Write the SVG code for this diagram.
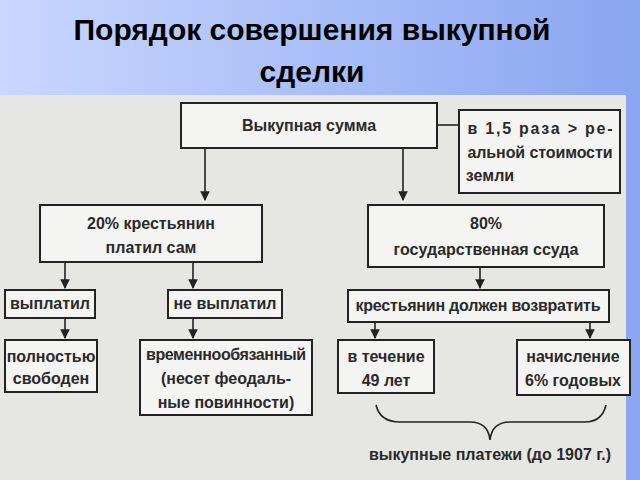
<svg xmlns="http://www.w3.org/2000/svg" width="640" height="480" viewBox="0 0 640 480">
<defs>
<linearGradient id="bg" x1="0" y1="0" x2="1" y2="0"><stop offset="0" stop-color="#c9d7ff"/><stop offset="1" stop-color="#8aa6f0"/></linearGradient>
<marker id="ar" viewBox="0 0 10 10" refX="9" refY="5" markerWidth="6" markerHeight="6" orient="auto"><path d="M0,0L10,5L0,10z" fill="#222"/></marker>
<style>
.b{fill:#f4f4f2;stroke:#222;stroke-width:2}
.t{font-family:"Liberation Sans",Arial,sans-serif;font-size:16px;font-weight:bold;fill:#2a2a2a;text-anchor:middle}
.c{stroke:#222;stroke-width:1.6;fill:none}
.h{font-family:"Liberation Sans",Arial,sans-serif;font-size:30px;font-weight:bold;fill:#000;text-anchor:middle}
</style>
</defs>
<rect width="640" height="480" fill="url(#bg)"/>
<rect x="0" y="95" width="626" height="385" fill="#e6e6e3"/>
<text class="h" x="312" y="40">Порядок совершения выкупной</text>
<text class="h" x="312" y="82">сделки</text>
<g id="connectors">
<path class="c" d="M437,125H459"/>
<path class="c" d="M205,148V200" marker-end="url(#ar)"/>
<path class="c" d="M403,148V200" marker-end="url(#ar)"/>
<path class="c" d="M65,262V288" marker-end="url(#ar)"/>
<path class="c" d="M193,262V288" marker-end="url(#ar)"/>
<path class="c" d="M480,267V288" marker-end="url(#ar)"/>
<path class="c" d="M65,318V338" marker-end="url(#ar)"/>
<path class="c" d="M193,318V338" marker-end="url(#ar)"/>
<path class="c" d="M375,322V338" marker-end="url(#ar)"/>
<path class="c" d="M590,322V338" marker-end="url(#ar)"/>
<path class="c" d="M376,405Q380,422 400,422H470Q488,422 490,440Q492,422 510,422H585Q602,422 606,405" stroke-width="2.2"/>
</g>
<g id="n1"><rect class="b" x="181" y="103" width="256" height="45"/><text class="t" x="309" y="131">Выкупная сумма</text></g>
<g id="n2"><rect class="b" x="459" y="110" width="161" height="83"/><text class="t" x="540" y="134" textLength="145">в 1,5 раза &gt; ре-</text><text class="t" x="540" y="158" textLength="145">альной стоимости</text><text class="t" x="490" y="181">земли</text></g>
<g id="n3"><rect class="b" x="40" y="205" width="222" height="57"/><text class="t" x="151" y="229">20% крестьянин</text><text class="t" x="151" y="253">платил сам</text></g>
<g id="n4"><rect class="b" x="368" y="205" width="236" height="62"/><text class="t" x="486" y="229">80%</text><text class="t" x="486" y="255">государственная ссуда</text></g>
<g id="n5"><rect class="b" x="5" y="290" width="90" height="28"/><text class="t" x="50" y="309">выплатил</text></g>
<g id="n6"><rect class="b" x="168" y="290" width="114" height="28"/><text class="t" x="225" y="309">не выплатил</text></g>
<g id="n7"><rect class="b" x="348" y="290" width="261" height="32"/><text class="t" x="478" y="311" textLength="245">крестьянин должен возвратить</text></g>
<g id="n8"><rect class="b" x="5" y="340" width="92" height="52"/><text class="t" x="51" y="362">полностью</text><text class="t" x="51" y="384">свободен</text></g>
<g id="n9"><rect class="b" x="140" y="340" width="172" height="75"/><text class="t" x="226" y="360" textLength="160">временнообязанный</text><text class="t" x="226" y="384">(несет феодаль-</text><text class="t" x="226" y="408">ные повинности)</text></g>
<g id="n10"><rect class="b" x="338" y="340" width="96" height="53"/><text class="t" x="386" y="362">в течение</text><text class="t" x="386" y="386">49 лет</text></g>
<g id="n11"><rect class="b" x="517" y="340" width="113" height="55"/><text class="t" x="573" y="362">начисление</text><text class="t" x="573" y="386">6% годовых</text></g>
<text class="t" x="490" y="460">выкупные платежи (до 1907 г.)</text>
</svg>
